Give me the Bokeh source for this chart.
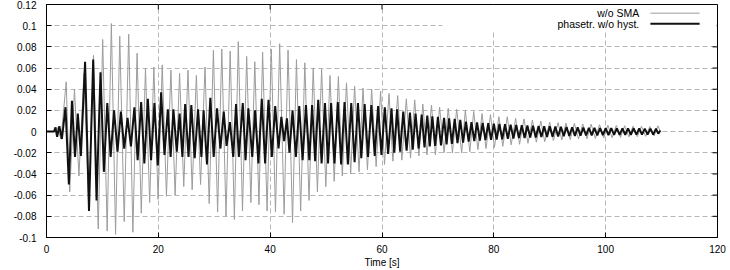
import math
from bokeh.plotting import figure
from bokeh.models import Range1d, FixedTicker, Label, Arrow, BoxAnnotation
from bokeh.embed import file_html
from bokeh.resources import INLINE

# ---- data: extrema (time [s], value) ----
gray_points = [
    (0.0, 0.0), (1.3, 0.0), (1.9, 0.004), (2.6, -0.007), (3.52, 0.047), (4.15, -0.057),
    (5.0, 0.040), (5.8, -0.042), (6.7, 0.055), (7.55, -0.070), (8.4, 0.072), (9.25, -0.092),
    (10.05, 0.087), (10.85, -0.094), (11.6, 0.102), (12.35, -0.097), (13.1, 0.090), (13.9, -0.085),
    (14.7, 0.092), (15.45, -0.095), (16.2, 0.074), (16.95, -0.077), (17.7, 0.060), (18.45, -0.067),
    (19.2, 0.061), (19.95, -0.064), (20.7, 0.063), (21.45, -0.061), (22.25, 0.058), (23.0, -0.060),
    (23.8, 0.055), (24.55, -0.052), (25.3, 0.058), (26.05, -0.055), (26.8, 0.053), (27.55, -0.050),
    (28.35, 0.061), (29.1, -0.068), (29.85, 0.077), (30.6, -0.076), (31.35, 0.078), (32.1, -0.080),
    (32.85, 0.076), (33.6, -0.083), (34.3, 0.085), (35.05, -0.075), (35.8, 0.071), (36.55, -0.067),
    (37.25, 0.066), (38.0, -0.069), (38.65, 0.075), (39.45, -0.075), (40.2, 0.078), (40.95, -0.076),
    (41.7, 0.083), (42.5, -0.078), (43.2, 0.077), (44.0, -0.086), (44.7, 0.068), (45.45, -0.075),
    (46.2, 0.065), (46.95, -0.065), (47.7, 0.060), (48.45, -0.057), (49.2, 0.059), (49.95, -0.052),
    (50.7, 0.053), (51.45, -0.047), (52.2, 0.052), (52.9, -0.042), (53.65, 0.046), (54.4, -0.040),
    (55.1, 0.043), (55.9, -0.038), (56.6, 0.041), (57.4, -0.036), (58.15, 0.040), (58.95, -0.033),
    (59.75, 0.038), (60.45, -0.031), (61.25, 0.036), (61.95, -0.028), (62.8, 0.034), (63.55, -0.027),
    (64.35, 0.031), (65.1, -0.025), (65.85, 0.030), (66.6, -0.023), (67.3, 0.026), (68.05, -0.022),
    (68.85, 0.025), (69.55, -0.022), (70.3, 0.023), (71.1, -0.020), (71.85, 0.022), (72.6, -0.020),
    (73.35, 0.021), (74.25, -0.020), (74.9, 0.020), (75.7, -0.019), (76.4, 0.019), (77.15, -0.017),
    (77.9, 0.017), (78.6, -0.016), (79.4, 0.016), (80.1, -0.015), (80.9, 0.014), (81.6, -0.014),
    (82.4, 0.014), (83.1, -0.0125), (83.9, 0.0125), (84.6, -0.012), (85.4, 0.012), (86.1, -0.011),
    (86.9, 0.011), (87.6, -0.010), (88.4, 0.010), (89.1, -0.0095), (90.0, 0.0088), (90.65, -0.0085),
    (91.5, 0.0085), (92.15, -0.008), (92.9, 0.008), (93.65, -0.0075), (94.4, 0.0078), (95.15, -0.007),
    (95.9, 0.0072), (96.65, -0.0068), (97.4, 0.007), (98.15, -0.0065), (98.9, 0.0065), (99.65, -0.006),
    (100.4, 0.006), (101.15, -0.0058), (101.9, 0.0058), (102.65, -0.0055), (103.4, 0.0055), (104.15, -0.005),
    (104.9, 0.0052), (105.65, -0.0048), (106.4, 0.005), (107.15, -0.0045), (107.9, 0.0048), (108.65, -0.0042),
    (109.35, 0.0055), (109.8, 0.0),
]

black_points = [
    (0.0, 0.0), (1.35, 0.0), (1.6, 0.004), (1.9, -0.005), (2.3, 0.005), (2.75, -0.007),
    (3.4, 0.023), (4.0, -0.050), (4.55, 0.029), (5.1, -0.024), (5.6, 0.017), (6.15, -0.023),
    (6.9, 0.066), (7.6, -0.075), (8.35, 0.068), (8.95, -0.065), (9.66, 0.056), (10.26, -0.038),
    (10.87, 0.027), (11.47, -0.024), (12.08, 0.020), (12.7, -0.019), (13.3, 0.019), (13.9, -0.016),
    (14.5, 0.013), (15.1, -0.014), (15.72, 0.023), (16.3, -0.027), (16.93, 0.028), (17.5, -0.030),
    (18.13, 0.031), (18.7, -0.027), (19.3, 0.027), (19.9, -0.032), (20.5, 0.037), (21.1, -0.022),
    (21.7, 0.021), (22.2, -0.024), (22.7, 0.021), (23.3, -0.019), (23.8, 0.017), (24.3, -0.024),
    (24.8, 0.026), (25.4, -0.024), (25.9, 0.025), (26.5, -0.025), (27.1, 0.021), (27.7, -0.024),
    (28.1, 0.020), (28.7, -0.031), (29.3, 0.032), (29.9, -0.024), (30.5, 0.022), (31.1, -0.016),
    (31.7, 0.019), (32.2, -0.0135), (32.8, 0.009), (33.4, -0.024), (33.9, 0.026), (34.4, -0.024),
    (35.1, 0.027), (35.6, -0.027), (36.1, 0.022), (36.8, -0.024), (37.3, 0.020), (37.9, -0.030),
    (38.5, 0.031), (39.1, -0.030), (39.7, 0.030), (40.3, -0.024), (40.9, 0.024), (41.5, -0.016),
    (42.0, 0.014), (42.5, -0.009), (43.0, 0.0125), (43.45, -0.020), (44.0, 0.020), (44.6, -0.024),
    (45.2, 0.024), (45.8, -0.027), (46.4, 0.025), (47.0, -0.027), (47.5, 0.025), (48.05, -0.028),
    (48.6, 0.030), (49.2, -0.030), (49.8, 0.027), (50.35, -0.030), (50.9, 0.027), (51.5, -0.030),
    (52.1, 0.028), (52.7, -0.031), (53.3, 0.028), (53.9, -0.031), (54.5, 0.027), (55.1, -0.029),
    (55.7, 0.027), (56.3, -0.025), (56.9, 0.026), (57.5, -0.024), (58.1, 0.025), (58.7, -0.023),
    (59.3, 0.024), (59.9, -0.022), (60.5, 0.023), (61.1, -0.021), (61.7, 0.022), (62.2, -0.020),
    (62.7, 0.021), (63.25, -0.019), (63.8, 0.019), (64.4, -0.018), (65.0, 0.018), (65.5, -0.017),
    (66.0, 0.017), (66.55, -0.016), (67.1, 0.016), (67.6, -0.015), (68.1, 0.015), (68.55, -0.014),
    (69.0, 0.0145), (69.5, -0.0135), (70.0, 0.014), (70.55, -0.013), (71.1, 0.013), (71.55, -0.012),
    (72.0, 0.0125), (72.5, -0.0115), (73.0, 0.012), (73.5, -0.011), (74.0, 0.011), (74.5, -0.0105),
    (75.0, 0.0095), (75.5, -0.0095), (76.0, 0.009), (76.5, -0.009), (77.0, 0.0087), (77.5, -0.0085),
    (78.0, 0.0083), (78.5, -0.008), (79.0, 0.008), (79.5, -0.0078), (80.0, 0.0075), (80.5, -0.0075),
    (81.0, 0.0072), (81.5, -0.0072), (82.0, 0.007), (82.5, -0.0068), (83.0, 0.0066), (83.5, -0.0065),
    (84.0, 0.0063), (84.5, -0.0062), (85.0, 0.006), (85.5, -0.006), (86.0, 0.0058), (86.5, -0.0057),
    (87.0, 0.0055), (87.5, -0.0055), (88.0, 0.0053), (88.5, -0.0052), (89.0, 0.0051), (89.5, -0.005),
    (90.0, 0.005), (90.5, -0.0048), (91.0, 0.0047), (91.5, -0.0046), (92.0, 0.0045), (92.5, -0.0044),
    (93.0, 0.0043), (93.5, -0.0042), (94.0, 0.0041), (94.5, -0.004), (95.0, 0.004), (95.5, -0.0039),
    (96.0, 0.0038), (96.5, -0.0037), (97.0, 0.0036), (97.5, -0.0036), (98.0, 0.0035), (98.5, -0.0035),
    (99.0, 0.0034), (99.5, -0.0034), (100.0, 0.0033), (100.5, -0.0033), (101.0, 0.0032), (101.5, -0.0032),
    (102.0, 0.0031), (102.5, -0.0031), (103.0, 0.0031), (103.5, -0.003), (104.0, 0.003), (104.5, -0.003),
    (105.0, 0.003), (105.5, -0.0029), (106.0, 0.0029), (106.5, -0.0029), (107.0, 0.0028), (107.5, -0.0028),
    (108.0, 0.0028), (108.5, -0.0028), (109.0, 0.0028), (109.4, -0.002), (109.8, 0.001),
]

series_names = ["w/o SMA", "phasetr. w/o hyst."]
x_ticks = [0, 20, 40, 60, 80, 100, 120]
x_tick_labels = ["0", "20", "40", "60", "80", "100", "120"]
y_ticks = [-0.1, -0.08, -0.06, -0.04, -0.02, 0.0, 0.02, 0.04, 0.06, 0.08, 0.1, 0.12]
y_tick_labels = ["-0.1", "-0.08", "-0.06", "-0.04", "-0.02", "0", "0.02", "0.04", "0.06", "0.08", "0.1", "0.12"]
x_label = "Time [s]"
X_MIN, X_MAX = 0, 120
Y_MIN, Y_MAX = -0.1, 0.12

gray_t = [p[0] for p in gray_points]
gray_v = [p[1] for p in gray_points]
black_t = [p[0] for p in black_points]
black_v = [p[1] for p in black_points]

FONT = "Liberation Sans"
GRAY = "#9c9c9c"
BLACK = "#111111"
TICK_LEN = 5

p = figure(width=730, height=270, output_backend="svg", toolbar_location=None,
           x_range=Range1d(X_MIN, X_MAX), y_range=Range1d(Y_MIN, Y_MAX),
           min_border_left=46, min_border_right=13, min_border_top=4, min_border_bottom=32)
p.outline_line_color = "black"
p.outline_line_width = 1
p.background_fill_color = "white"
p.border_fill_color = "white"

for ax in (p.xaxis[0], p.yaxis[0]):
    ax.major_tick_in = TICK_LEN
    ax.major_tick_out = 0
    ax.minor_tick_line_color = None
    ax.axis_line_color = "black"
    ax.major_tick_line_color = "black"
    ax.major_label_text_font = FONT
    ax.major_label_text_font_size = "10px"
    ax.major_label_text_color = "black"

p.xaxis[0].ticker = FixedTicker(ticks=x_ticks)
p.xaxis[0].major_label_overrides = dict(zip(x_ticks, x_tick_labels))
p.xaxis[0].major_label_standoff = 7
p.xaxis[0].axis_label = x_label
p.xaxis[0].axis_label_text_font = FONT
p.xaxis[0].axis_label_text_font_size = "10px"
p.xaxis[0].axis_label_text_font_style = "normal"
p.xaxis[0].axis_label_text_color = "black"
p.xaxis[0].axis_label_standoff = 1

p.yaxis[0].ticker = FixedTicker(ticks=y_ticks)
p.yaxis[0].major_label_overrides = dict(zip(y_ticks, y_tick_labels))
p.yaxis[0].major_label_standoff = 10

for g in (p.xgrid[0], p.ygrid[0]):
    g.grid_line_color = "#b8b8b8"
    g.grid_line_dash = "5 3"
    g.grid_line_width = 1
p.xgrid[0].ticker = FixedTicker(ticks=x_ticks)
p.ygrid[0].ticker = FixedTicker(ticks=y_ticks)

# mirrored inward ticks on the right and top frame edges
p.ray(x=[X_MAX] * len(y_ticks), y=y_ticks, length=TICK_LEN, length_units="screen",
      angle=math.pi, line_color="black", line_width=1)
p.ray(x=x_ticks, y=[Y_MAX] * len(x_ticks), length=TICK_LEN, length_units="screen",
      angle=-math.pi / 2, line_color="black", line_width=1)

p.line(gray_t, gray_v, line_color=GRAY, line_width=1)
p.line(black_t, black_v, line_color=BLACK, line_width=2)

# gnuplot-style key: opaque area, right-aligned text, sample line after text
KEY_LEFT, KEY_BOTTOM = 70.8, 0.0955
p.add_layout(BoxAnnotation(left=KEY_LEFT, right=119.85, bottom=KEY_BOTTOM, top=0.1195,
                           fill_color="white", fill_alpha=1.0, line_alpha=0.0))
KEY_TEXT_X, KEY_LINE_X0, KEY_LINE_X1 = 106.0, 108.0, 116.8
KEY_ROWS_Y = [0.1118, 0.1018]
for name, y, col, lw in zip(series_names, KEY_ROWS_Y, [GRAY, BLACK], [1, 2]):
    p.add_layout(Label(x=KEY_TEXT_X, y=y, text=name, text_align="right", text_baseline="middle",
                       text_font=FONT, text_font_size="10.5px", text_color="black"))
    p.add_layout(Arrow(end=None, x_start=KEY_LINE_X0, y_start=y, x_end=KEY_LINE_X1, y_end=y,
                       line_color=col, line_width=lw))

open("out.html", "w").write(file_html(p, INLINE))
